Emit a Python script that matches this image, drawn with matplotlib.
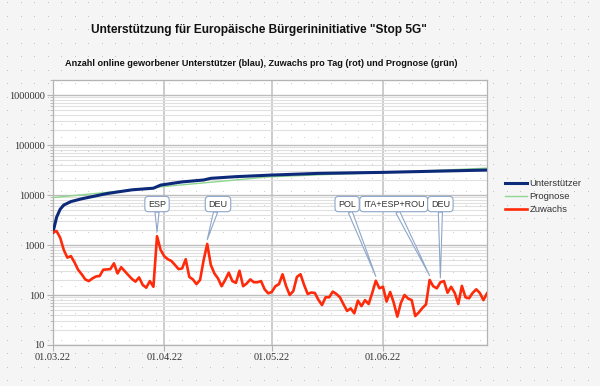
import numpy as np
import matplotlib
matplotlib.use("Agg")
import matplotlib.pyplot as plt
import matplotlib.dates as mdates
import matplotlib.ticker as mticker
from matplotlib.lines import Line2D

# ---------------- data ----------------
days = np.arange("2022-03-01", "2022-07-01", dtype="datetime64[D]")

zuwachs = [
    1800, 1900, 1400, 800, 560, 600, 450, 320, 260, 205,
    190, 215, 235, 240, 320, 325, 330, 430, 270, 360,
    300, 250, 210, 185, 225, 160, 140, 190, 146, 1500,
    800, 600, 520, 480, 400, 330, 340, 520, 230, 205,
    165, 200, 500, 1050, 400, 270, 215, 150, 200, 280,
    190, 175, 305, 150, 170, 205, 180, 180, 190, 130,
    108, 115, 150, 165, 260, 150, 100, 120, 230, 260,
    160, 105, 112, 110, 80, 63, 90, 90, 117, 105,
    90, 65, 48, 54, 43, 77, 60, 79, 66, 110,
    193, 136, 146, 74, 115, 70, 37, 70, 100, 85,
    79, 38, 45, 55, 65, 200, 150, 136, 180, 190,
    111, 146, 110, 66, 152, 90, 86, 110, 130, 110,
    79, 108,
]

unterstuetzer_dates = ["2022-03-01", "2022-03-02", "2022-03-03", "2022-03-04", "2022-03-06",
                       "2022-03-09", "2022-03-16", "2022-03-23", "2022-03-29", "2022-03-31",
                       "2022-04-06", "2022-04-12", "2022-04-14", "2022-04-21", "2022-05-01",
                       "2022-05-14", "2022-06-01", "2022-06-30"]
unterstuetzer = [1800, 3600, 5200, 6300, 7400,
                 8400, 10700, 12700, 13700, 15800,
                 18300, 20000, 21600, 23300, 25100,
                 27100, 28400, 31600]

prognose_dates = ["2022-03-01", "2022-03-16", "2022-04-01", "2022-04-15", "2022-04-30",
                  "2022-05-15", "2022-06-01", "2022-06-15", "2022-06-30"]
prognose = [8900, 11300, 14800, 18300, 23000, 25500, 28000, 31000, 34500]

ann_labels = ["ESP", "DEU", "POL", "ITA+ESP+ROU", "DEU"]
ann_target_dates = ["2022-03-30", "2022-04-13", "2022-05-30", "2022-06-14", "2022-06-17"]
ann_text_dates = ["2022-03-30", "2022-04-16", "2022-05-22", "2022-06-04", "2022-06-17"]

yticks = [10, 100, 1000, 10000, 100000, 1000000]
ytick_labels = ["10", "100", "1000", "10000", "100000", "1000000"]

title = 'Unterstützung für Europäische Bürgerininitiative "Stop 5G"'
subtitle = "Anzahl online geworbener Unterstützer (blau), Zuwachs pro Tag (rot) und Prognose (grün)"

# ---------------- figure ----------------
W, H = 600, 386
fig = plt.figure(figsize=(W / 100, H / 100), dpi=100, facecolor="#f5f5f5")
ax = fig.add_axes([53 / W, 41 / H, 434 / W, 265 / H])
ax.set_facecolor("white")

# dotted background pattern
gx, gy = np.meshgrid(np.arange(7, W, 13.5) / W, np.arange(6, H, 13.5) / H)
fig.add_artist(Line2D(gx.ravel(), gy.ravel(), ls="none", marker="s", ms=0.7, mew=0,
                      color="#c2c2c2", transform=fig.transFigure, zorder=-5))
dots_in = Line2D(gx.ravel(), gy.ravel(), ls="none", marker="s", ms=0.7, mew=0,
                 color="#cfcfcf", transform=fig.transFigure, zorder=0.2)
ax.add_line(dots_in)

ax.set_yscale("log")
ax.set_ylim(10, 2.0e6)
ax.set_xlim(days[0], days[-1])

# grid
ax.set_axisbelow(True)
ax.yaxis.set_major_locator(mticker.FixedLocator(yticks))
ax.yaxis.set_major_formatter(mticker.FixedFormatter(ytick_labels))
ax.yaxis.set_minor_locator(mticker.LogLocator(base=10, subs=np.arange(2, 10)))
ax.yaxis.set_minor_formatter(mticker.NullFormatter())
ax.grid(True, which="major", axis="y", color="#bdbdbd", lw=1.0)
ax.grid(True, which="minor", axis="y", color="#e0e0e0", lw=0.8)
ax.xaxis.set_major_locator(mdates.MonthLocator(bymonthday=1))
ax.xaxis.set_major_formatter(mdates.DateFormatter("%d.%m.%y"))
ax.grid(True, which="major", axis="x", color="#cccccc", lw=1.4)

for s in ax.spines.values():
    s.set_color("#b3b3b3")
    s.set_linewidth(0.9)

tick_font = dict(family=["Liberation Serif", "DejaVu Serif"], size=7.5)
ax.tick_params(axis="both", which="major", length=4, width=0.8, color="#b3b3b3",
               labelcolor="#333333", pad=2)
ax.tick_params(axis="y", which="minor", length=2.5, width=0.6, color="#b3b3b3")
for lab in ax.get_xticklabels() + ax.get_yticklabels():
    lab.set_fontfamily(tick_font["family"])
    lab.set_fontsize(tick_font["size"])

# series
p_dates = np.array(prognose_dates, dtype="datetime64[D]")
u_dates = np.array(unterstuetzer_dates, dtype="datetime64[D]")
ax.plot(p_dates, prognose, color="#8fd68f", lw=1.0, label="Prognose", zorder=3)
ax.plot(u_dates, unterstuetzer, color="#0d2a7a", lw=2.2, label="Unterstützer", zorder=4,
        solid_joinstyle="round")
ax.plot(days, zuwachs, color="#ff2a0a", lw=1.9, label="Zuwachs", zorder=4,
        solid_joinstyle="round")

# callouts
zu = dict(zip(days.astype(str), zuwachs))
for lab, td, xd in zip(ann_labels, ann_target_dates, ann_text_dates):
    tdate = np.datetime64(td)
    ax.annotate(lab, xy=(tdate, zu[td] * 1.22), xytext=(np.datetime64(xd), 6600),
                ha="center", va="center", fontsize=6.5, color="#333333",
                family=["Liberation Sans", "DejaVu Sans"],
                bbox=dict(boxstyle="round,pad=0.35,rounding_size=0.4", fc="white",
                          ec="#8ea6c8", lw=0.8),
                arrowprops=dict(arrowstyle="wedge,tail_width=0.45,shrink_factor=0.5",
                                fc="white", ec="#8ea6c8", lw=0.8,
                                shrinkA=0, shrinkB=0),
                zorder=6)

# legend
handles, labels = ax.get_legend_handles_labels()
order = [labels.index("Unterstützer"), labels.index("Prognose"), labels.index("Zuwachs")]
leg = fig.legend([handles[i] for i in order], [labels[i] for i in order],
                 loc="upper left", bbox_to_anchor=(505 / W, 1 - 179 / H),
                 frameon=False, fontsize=6.8, handlelength=2.3, handletextpad=0.3,
                 labelspacing=0.45, borderpad=0, borderaxespad=0,
                 prop=dict(family=["Liberation Sans", "DejaVu Sans"], size=6.8))
for t in leg.get_texts():
    t.set_color("#333333")

# titles
fig.text(259 / W, 1 - 30 / H, title, ha="center", va="center", fontsize=8.6,
         fontweight="bold", family=["Liberation Sans", "DejaVu Sans"], color="#111111")
fig.text(261 / W, 1 - 63 / H, subtitle, ha="center", va="center", fontsize=6.6,
         fontweight="bold", family=["Liberation Sans", "DejaVu Sans"], color="#111111")

fig.savefig("out.png", dpi=100, facecolor=fig.get_facecolor())
